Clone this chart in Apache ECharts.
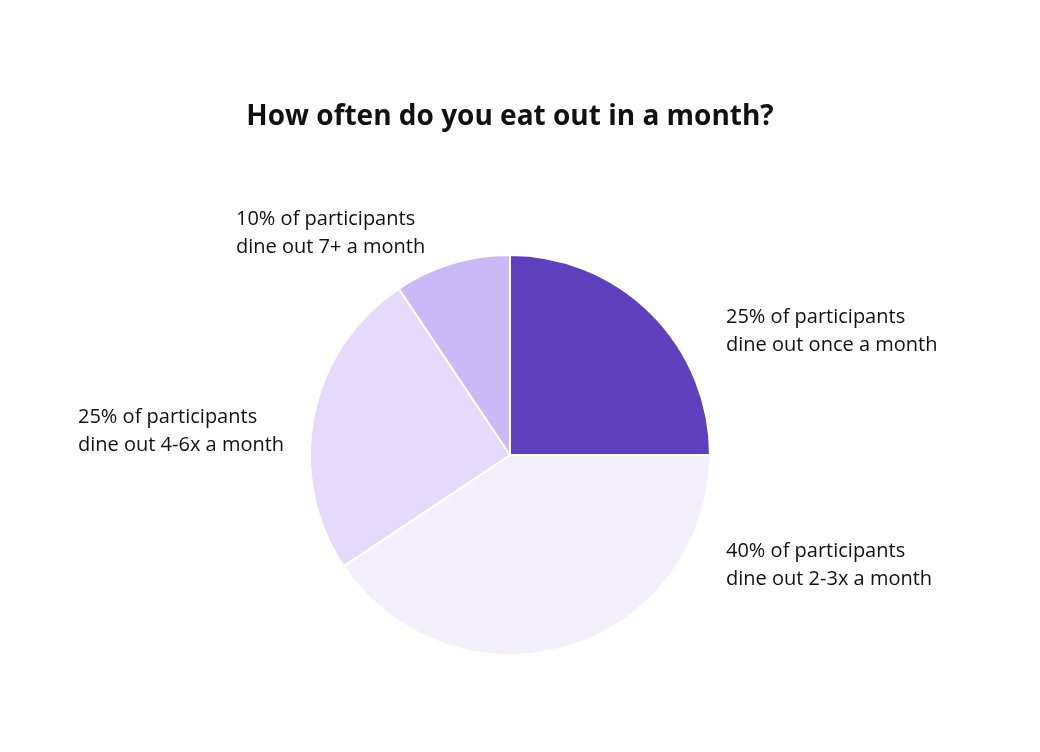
<!DOCTYPE html>
<html>
<head>
<meta charset="utf-8">
<script src="https://cdn.jsdelivr.net/npm/echarts@6/dist/echarts.min.js"></script>
<style>
  html, body { margin: 0; padding: 0; background: #fff; }
  #main { width: 1040px; height: 752px; }
</style>
</head>
<body>
<div id="main"></div>
<script>
var titleText = 'How often do you eat out in a month?';
var categories = ['once a month', '2-3x a month', '4-6x a month', '7+ a month'];
var responses = [8, 13, 8, 3];          // participant counts (slice sizes)
var labelPercents = [25, 40, 25, 10];   // percentages as printed in labels
var sliceColors = ['#5e40be', '#f3effd', '#e5dafb', '#cbb8f7'];

// label anchors (left edge x, vertical middle y) per slice
var labelSpots = [[726, 331], [726, 565], [78, 431], [236, 233]];

var option = {
    animation: false,
    title: {
        text: titleText,
        left: 505,
        top: 98,
        textAlign: 'center',
        textStyle: {
            fontFamily: 'Open Sans',
            fontSize: 28,
            fontWeight: 'bold',
            color: '#111'
        }
    },
    series: [{
        type: 'pie',
        center: [510, 455],
        radius: 200,
        startAngle: 90,
        clockwise: true,
        silent: true,
        itemStyle: {
            borderColor: '#fff',
            borderWidth: 2
        },
        label: {
            show: true,
            position: 'outside',
            align: 'left',
            fontFamily: 'Open Sans',
            fontSize: 20,
            lineHeight: 28,
            color: '#111',
            formatter: function (p) {
                return labelPercents[p.dataIndex] + '% of participants\ndine out ' + p.name;
            }
        },
        labelLine: { show: false },
        labelLayout: function (params) {
            var s = labelSpots[params.dataIndex];
            return { x: s[0], y: s[1], align: 'left', verticalAlign: 'middle' };
        },
        data: categories.map(function (c, i) {
            return { name: c, value: responses[i], itemStyle: { color: sliceColors[i] } };
        })
    }]
};

echarts.init(document.getElementById('main')).setOption(option);
</script>
</body>
</html>
